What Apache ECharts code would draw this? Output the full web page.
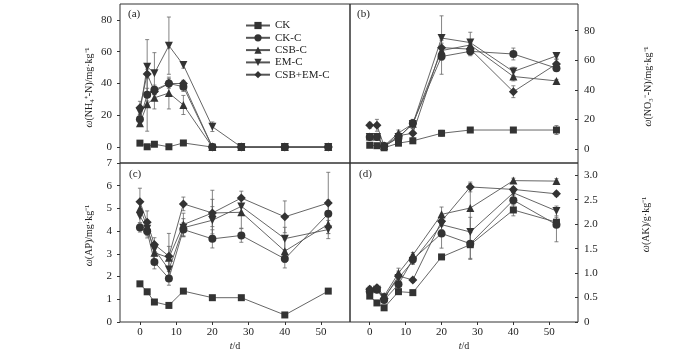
<!DOCTYPE html>
<html>
<head>
<meta charset="utf-8">
<script src="https://cdn.jsdelivr.net/npm/echarts@6/dist/echarts.min.js"></script>
<style>html,body{margin:0;padding:0;background:#fff}#c{width:700px;height:354px}</style>
</head>
<body>
<div id="c"></div>
<script>
// ---- data ----
const days = [0, 2, 4, 8, 12, 20, 28, 40, 52];
const seriesNames = ['CK', 'CK-C', 'CSB-C', 'EM-C', 'CSB+EM-C'];
const xTicks = [0, 10, 20, 30, 40, 50];

// (a) NH4+-N, mg/kg
const nh4CK    = [2.5, 0.2, 1.8, 0.2, 2.6, 0, 0, 0, 0];
const nh4CKC   = [17.5, 33, 36, 40, 38, 0, 0, 0, 0];
const nh4CSBC  = [15, 27, 31, 34, 26.5, 0, 0, 0, 0];
const nh4EMC   = [22, 50.6, 46.4, 63.8, 51.6, 12.8, 0, 0, 0];
const nh4CSBEM = [24.8, 46, 35, 40, 40, 0, 0, 0, 0];
const nh4ErrCK    = [0.5, 0.3, 0.5, 0.3, 0.5, 0, 0, 0, 0];
const nh4ErrCKC   = [3, 4, 3, 3, 3, 0, 0, 0, 0];
const nh4ErrCSBC  = [2, 17, 7, 10, 6, 0, 0, 0, 0];
const nh4ErrEMC   = [2, 17, 13, 18, 2, 3, 0, 0, 0];
const nh4ErrCSBEM = [4, 3, 2, 2, 2, 0, 0, 0, 0];
const nh4Ticks = [0, 20, 40, 60, 80];

// (b) NO3--N, mg/kg
const no3CK    = [2.5, 2.2, 0.8, 3.9, 5.5, 10.6, 12.8, 12.8, 12.8];
const no3CKC   = [8, 8, 2, 7.5, 17.4, 62.5, 66, 64.2, 54.6];
const no3CSBC  = [8.5, 8.5, 2, 10.8, 17, 66.5, 70.3, 49, 46];
const no3EMC   = [8, 8, 1.5, 8, 16.9, 75, 71.9, 52.3, 62.9];
const no3CSBEM = [16, 16, 2, 9, 10.6, 68.5, 67.5, 38.7, 57.5];
const no3ErrCK    = [0.5, 0.5, 0.5, 1, 1, 2, 1, 1, 3];
const no3ErrCKC   = [1, 1, 1, 2, 2, 12, 3, 4, 2];
const no3ErrCSBC  = [1, 1, 1, 2, 3, 5, 3, 3, 1];
const no3ErrEMC   = [1, 1, 1, 2, 3, 15, 7, 3, 2];
const no3ErrCSBEM = [2, 4, 1, 2, 3, 5, 4, 4, 3];
const no3Ticks = [0, 20, 40, 60, 80];

// (c) AP, mg/kg
const apCK    = [1.68, 1.33, 0.88, 0.73, 1.36, 1.07, 1.07, 0.31, 1.36];
const apCKC   = [4.16, 4.0, 2.64, 1.92, 4.07, 3.66, 3.81, 2.78, 4.77];
const apCSBC  = [5.0, 4.2, 3.05, 2.83, 4.29, 4.8, 4.83, 3.12, 4.3];
const apEMC   = [4.67, 4.1, 3.2, 2.31, 4.15, 4.48, 5.09, 3.67, 4.07];
const apCSBEM = [5.29, 4.39, 3.41, 2.9, 5.2, 4.8, 5.46, 4.63, 5.24];
const apErrCK    = [0.1, 0.1, 0.05, 0.05, 0.08, 0.05, 0.05, 0.05, 0.05];
const apErrCKC   = [0.2, 0.3, 0.3, 0.3, 0.3, 0.4, 0.3, 0.4, 0.6];
const apErrCSBC  = [0.3, 0.3, 0.3, 0.5, 0.5, 0.6, 0.7, 0.5, 0.4];
const apErrEMC   = [0.3, 0.3, 0.3, 0.5, 0.4, 0.6, 0.3, 0.5, 0.4];
const apErrCSBEM = [0.6, 0.5, 0.3, 1.0, 0.3, 1.0, 0.3, 0.7, 1.35];
const apTicks = [0, 1, 2, 3, 4, 5, 6, 7];

// (d) AK, g/kg
const akCK    = [0.53, 0.39, 0.29, 0.62, 0.6, 1.33, 1.58, 2.29, 2.04];
const akCKC   = [0.63, 0.66, 0.45, 0.77, 1.28, 1.81, 1.6, 2.49, 1.99];
const akCSBC  = [0.68, 0.7, 0.53, 1.0, 1.37, 2.2, 2.33, 2.89, 2.88];
const akEMC   = [0.62, 0.66, 0.5, 0.9, 1.24, 1.99, 1.84, 2.64, 2.27];
const akCSBEM = [0.67, 0.7, 0.48, 0.94, 0.86, 2.06, 2.76, 2.71, 2.62];
const akErrCK    = [0.03, 0.03, 0.03, 0.05, 0.05, 0.05, 0.3, 0.12, 0.1];
const akErrCKC   = [0.05, 0.05, 0.05, 0.1, 0.1, 0.3, 0.3, 0.1, 0.35];
const akErrCSBC  = [0.05, 0.05, 0.05, 0.1, 0.05, 0.15, 0.5, 0.05, 0.05];
const akErrEMC   = [0.05, 0.05, 0.05, 0.1, 0.05, 0.1, 0.3, 0.1, 0.1];
const akErrCSBEM = [0.05, 0.05, 0.05, 0.1, 0.05, 0.1, 0.1, 0.05, 0.05];
const akTicks = [0, 0.5, 1, 1.5, 2, 2.5, 3];

// ---- chart ----
const FONT = 'Liberation Serif';
const TXT = '#222';
const symbols = [
  {symbol: 'rect', size: 7, rotate: 0},
  {symbol: 'circle', size: 8, rotate: 0},
  {symbol: 'triangle', size: 8, rotate: 0},
  {symbol: 'triangle', size: 8, rotate: 180},
  {symbol: 'diamond', size: 9, rotate: 0}
];
const panels = [
  {vals: [nh4CK, nh4CKC, nh4CSBC, nh4EMC, nh4CSBEM], errs: [nh4ErrCK, nh4ErrCKC, nh4ErrCSBC, nh4ErrEMC, nh4ErrCSBEM]},
  {vals: [no3CK, no3CKC, no3CSBC, no3EMC, no3CSBEM], errs: [no3ErrCK, no3ErrCKC, no3ErrCSBC, no3ErrEMC, no3ErrCSBEM]},
  {vals: [apCK, apCKC, apCSBC, apEMC, apCSBEM], errs: [apErrCK, apErrCKC, apErrCSBC, apErrEMC, apErrCSBEM]},
  {vals: [akCK, akCKC, akCSBC, akEMC, akCSBEM], errs: [akErrCK, akErrCKC, akErrCSBC, akErrEMC, akErrCSBEM]}
];

const grids = [
  {left: 120, top: 4, width: 230, height: 159},
  {left: 350, top: 4, width: 228, height: 159},
  {left: 120, top: 163, width: 230, height: 159},
  {left: 350, top: 163, width: 228, height: 159}
].map(g => Object.assign(g, {show: true, borderColor: '#333', borderWidth: 1, backgroundColor: 'transparent', containLabel: false}));

const labelStyle = {fontFamily: FONT, fontSize: 11, color: TXT};
function nameStyle(pad) {
  return {fontFamily: FONT, fontSize: 10, color: TXT, padding: pad,
    rich: {i: {fontFamily: FONT, fontSize: 10, fontStyle: 'italic', color: TXT}}};
}

const xAxes = [0, 1, 2, 3].map(k => ({
  type: 'value', gridIndex: k, min: -5.5, max: 58,
  axisLine: {show: false, onZero: false},
  splitLine: {show: false},
  axisTick: {show: k >= 2, inside: false, length: 3, lineStyle: {color: '#333'}, customValues: xTicks},
  axisLabel: {show: k >= 2, margin: 5, customValues: xTicks, ...labelStyle},
  name: k >= 2 ? '{i|t}/d' : '', nameLocation: 'middle', nameGap: 19, nameTextStyle: nameStyle(0)
}));

const yAxes = [
  {gridIndex: 0, position: 'left', min: -10, max: 90, ticks: nh4Ticks, name: '{i|ω}(NH₄⁺-N)/mg·kg⁻¹', inside: false, gap: 26, pad: [0, 8, 0, 0], fmt: v => String(v)},
  {gridIndex: 1, position: 'right', min: -9.5, max: 98, ticks: no3Ticks, name: '{i|ω}(NO₃⁻-N)/mg·kg⁻¹', inside: true, gap: 65, pad: [0, 6, 0, 0], fmt: v => String(v)},
  {gridIndex: 2, position: 'left', min: 0, max: 7, ticks: apTicks, name: '{i|ω}(AP)/mg·kg⁻¹', inside: false, gap: 26, pad: [0, 0, 0, 14], fmt: v => String(v)},
  {gridIndex: 3, position: 'right', min: 0, max: 3.25, ticks: akTicks, name: '{i|ω}(AK)/g·kg⁻¹', inside: true, gap: 63, pad: [0, 0, 0, 36], fmt: v => v === 0 ? '0' : v.toFixed(1)}
].map(a => ({
  type: 'value', gridIndex: a.gridIndex, position: a.position, min: a.min, max: a.max,
  axisLine: {show: false, onZero: false}, splitLine: {show: false},
  axisTick: {show: true, inside: a.inside, length: 3, lineStyle: {color: '#333'}, customValues: a.ticks},
  axisLabel: {margin: a.inside ? 6 : 8, customValues: a.ticks, formatter: a.fmt, ...labelStyle},
  name: a.name, nameLocation: 'middle', nameGap: a.gap, nameRotate: 90, nameTextStyle: nameStyle(a.pad)
}));

function errRender(params, api) {
  const x = api.value(0), y = api.value(1), e = api.value(2);
  if (!e) return null;
  const t = api.coord([x, y + e]), b = api.coord([x, y - e]);
  const w = 2;
  const st = {stroke: '#666', lineWidth: 0.8};
  return {type: 'group', children: [
    {type: 'line', shape: {x1: t[0], y1: t[1], x2: b[0], y2: b[1]}, style: st},
    {type: 'line', shape: {x1: t[0] - w, y1: t[1], x2: t[0] + w, y2: t[1]}, style: st},
    {type: 'line', shape: {x1: b[0] - w, y1: b[1], x2: b[0] + w, y2: b[1]}, style: st}
  ]};
}

const series = [];
panels.forEach((p, k) => {
  p.vals.forEach((vals, s) => {
    series.push({
      type: 'custom', name: 'err-' + k + '-' + s, xAxisIndex: k, yAxisIndex: k,
      renderItem: errRender, encode: {x: 0, y: 1}, z: 1, silent: true,
      data: days.map((d, i) => [d, vals[i], p.errs[s][i]])
    });
  });
  p.vals.forEach((vals, s) => {
    series.push({
      type: 'line', name: seriesNames[s], xAxisIndex: k, yAxisIndex: k,
      data: days.map((d, i) => [d, vals[i]]),
      symbol: symbols[s].symbol, symbolSize: symbols[s].size, symbolRotate: symbols[s].rotate,
      showAllSymbol: true, z: 3,
      lineStyle: {color: '#555', width: 0.9},
      itemStyle: {color: '#333', borderColor: '#333', borderWidth: 0}
    });
  });
});

const chart = echarts.init(document.getElementById('c'), null, {renderer: 'canvas'});
chart.setOption({
  animation: false,
  backgroundColor: '#fff',
  grid: grids,
  xAxis: xAxes,
  yAxis: yAxes,
  legend: {
    data: seriesNames, orient: 'vertical', left: 240, top: 15, padding: 5,
    itemWidth: 24, itemHeight: 9, itemGap: 1.3,
    textStyle: {fontFamily: FONT, fontSize: 11, color: TXT, lineHeight: 11}
  },
  graphic: [
    {type: 'text', left: 128, top: 9, style: {text: '(a)', font: '11px "Liberation Serif"', fill: TXT}},
    {type: 'text', left: 357, top: 9, style: {text: '(b)', font: '11px "Liberation Serif"', fill: TXT}},
    {type: 'text', left: 129, top: 169, style: {text: '(c)', font: '11px "Liberation Serif"', fill: TXT}},
    {type: 'text', left: 359, top: 169, style: {text: '(d)', font: '11px "Liberation Serif"', fill: TXT}}
  ],
  series: series
});
</script>
</body>
</html>
